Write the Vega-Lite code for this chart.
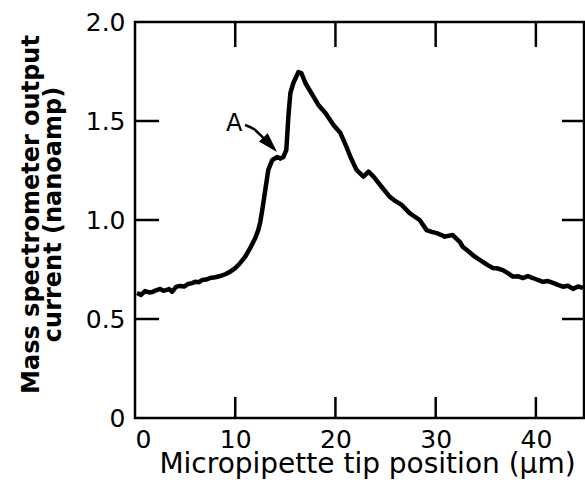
{
  "$schema": "https://vega.github.io/schema/vega-lite/v6.json",
  "width": 449,
  "height": 396,
  "autosize": {"type": "none"},
  "padding": {"left": 135, "top": 22, "right": 1, "bottom": 78},
  "background": "white",
  "config": {
    "view": {"stroke": "black", "strokeWidth": 2.5},
    "axis": {
      "grid": false,
      "domain": false,
      "ticks": false,
      "labelColor": "black",
      "labelFont": "DejaVu Sans",
      "labelFontSize": 25,
      "titleColor": "black",
      "titleFont": "DejaVu Sans"
    }
  },
  "datasets": {
    "curve": [
      {"x": 0.2, "y": 0.631}, {"x": 0.6, "y": 0.622}, {"x": 1.0, "y": 0.641}, {"x": 1.4, "y": 0.634},
      {"x": 1.7, "y": 0.636}, {"x": 2.1, "y": 0.645}, {"x": 2.5, "y": 0.652}, {"x": 2.8, "y": 0.643},
      {"x": 3.1, "y": 0.646}, {"x": 3.4, "y": 0.651}, {"x": 3.7, "y": 0.638}, {"x": 4.1, "y": 0.662},
      {"x": 4.5, "y": 0.667}, {"x": 4.9, "y": 0.664}, {"x": 5.3, "y": 0.677}, {"x": 5.7, "y": 0.681},
      {"x": 6.0, "y": 0.688}, {"x": 6.4, "y": 0.686}, {"x": 6.7, "y": 0.697}, {"x": 7.1, "y": 0.699},
      {"x": 7.5, "y": 0.707}, {"x": 8.0, "y": 0.711}, {"x": 8.5, "y": 0.717}, {"x": 9.0, "y": 0.726},
      {"x": 9.5, "y": 0.739}, {"x": 10.0, "y": 0.757}, {"x": 10.5, "y": 0.783}, {"x": 11.0, "y": 0.815},
      {"x": 11.5, "y": 0.859}, {"x": 12.0, "y": 0.909}, {"x": 12.3, "y": 0.949}, {"x": 12.5, "y": 0.99},
      {"x": 12.7, "y": 1.051}, {"x": 13.0, "y": 1.152}, {"x": 13.3, "y": 1.253}, {"x": 13.7, "y": 1.303},
      {"x": 14.2, "y": 1.318}, {"x": 14.5, "y": 1.31}, {"x": 14.8, "y": 1.318}, {"x": 15.1, "y": 1.354},
      {"x": 15.3, "y": 1.52}, {"x": 15.5, "y": 1.641}, {"x": 15.8, "y": 1.692}, {"x": 16.3, "y": 1.747},
      {"x": 16.6, "y": 1.742}, {"x": 17.0, "y": 1.692}, {"x": 17.6, "y": 1.641}, {"x": 18.3, "y": 1.581},
      {"x": 19.0, "y": 1.54}, {"x": 19.8, "y": 1.48}, {"x": 20.5, "y": 1.439}, {"x": 21.1, "y": 1.369},
      {"x": 21.5, "y": 1.318}, {"x": 22.1, "y": 1.253}, {"x": 22.8, "y": 1.219}, {"x": 23.3, "y": 1.244},
      {"x": 23.8, "y": 1.219}, {"x": 24.6, "y": 1.168}, {"x": 25.4, "y": 1.118}, {"x": 26.0, "y": 1.095},
      {"x": 26.6, "y": 1.076}, {"x": 27.4, "y": 1.035}, {"x": 28.4, "y": 1.0}, {"x": 29.1, "y": 0.949},
      {"x": 29.6, "y": 0.94}, {"x": 30.1, "y": 0.934}, {"x": 30.9, "y": 0.916}, {"x": 31.7, "y": 0.924},
      {"x": 32.4, "y": 0.89}, {"x": 32.7, "y": 0.865}, {"x": 33.2, "y": 0.845}, {"x": 33.7, "y": 0.823},
      {"x": 34.2, "y": 0.805}, {"x": 34.7, "y": 0.789}, {"x": 35.2, "y": 0.772}, {"x": 35.7, "y": 0.758},
      {"x": 36.2, "y": 0.755}, {"x": 36.7, "y": 0.747}, {"x": 37.2, "y": 0.732}, {"x": 37.7, "y": 0.714},
      {"x": 38.2, "y": 0.716}, {"x": 38.7, "y": 0.707}, {"x": 39.2, "y": 0.716}, {"x": 39.7, "y": 0.707},
      {"x": 40.2, "y": 0.697}, {"x": 40.7, "y": 0.688}, {"x": 41.2, "y": 0.692}, {"x": 41.7, "y": 0.682},
      {"x": 42.2, "y": 0.672}, {"x": 42.7, "y": 0.663}, {"x": 43.2, "y": 0.668}, {"x": 43.7, "y": 0.652},
      {"x": 44.2, "y": 0.664}, {"x": 44.7, "y": 0.657}
    ],
    "arrow": [
      {"x": 10.98, "y": 1.48}, {"x": 11.9, "y": 1.458}, {"x": 12.7, "y": 1.42}, {"x": 13.3, "y": 1.39}
    ],
    "head": [{"x": 13.49, "y": 1.38}],
    "label": [{"x": 9.9, "y": 1.485, "t": "A"}],
    "b10": [{"x": 10, "y": 0}, {"x": 10.001, "y": 0.106}],
    "b20": [{"x": 20, "y": 0}, {"x": 20.001, "y": 0.106}],
    "b30": [{"x": 30, "y": 0}, {"x": 30.001, "y": 0.106}],
    "b40": [{"x": 40, "y": 0}, {"x": 40.001, "y": 0.106}],
    "t10": [{"x": 10, "y": 2}, {"x": 10.001, "y": 1.874}],
    "t20": [{"x": 20, "y": 2}, {"x": 20.001, "y": 1.874}],
    "t30": [{"x": 30, "y": 2}, {"x": 30.001, "y": 1.874}],
    "t40": [{"x": 40, "y": 2}, {"x": 40.001, "y": 1.874}],
    "l05": [{"x": 0, "y": 0.5}, {"x": 2.4, "y": 0.5001}],
    "l10": [{"x": 0, "y": 1.0}, {"x": 2.4, "y": 1.0001}],
    "l15": [{"x": 0, "y": 1.5}, {"x": 2.4, "y": 1.5001}],
    "r05": [{"x": 42.6, "y": 0.5}, {"x": 44.8, "y": 0.5001}],
    "r10": [{"x": 42.6, "y": 1.0}, {"x": 44.8, "y": 1.0001}],
    "r15": [{"x": 42.6, "y": 1.5}, {"x": 44.8, "y": 1.5001}]
  },
  "layer": [
    {
      "data": {"name": "curve"},
      "mark": {"type": "line", "color": "black", "strokeWidth": 4.5, "strokeJoin": "round"},
      "encoding": {
        "x": {
          "field": "x", "type": "quantitative",
          "scale": {"domain": [0, 44.8], "nice": false, "zero": false},
          "axis": {
            "orient": "bottom", "values": [0, 10, 20, 30, 40],
            "labelPadding": 9,
            "title": "Micropipette tip position (μm)",
            "titleFontSize": 28, "titleFontWeight": "normal", "titlePadding": -2,
            "titleX": 232, "titleAlign": "center"
          }
        },
        "y": {
          "field": "y", "type": "quantitative",
          "scale": {"domain": [0, 2], "nice": false, "zero": false},
          "axis": {
            "orient": "left", "values": [0, 0.5, 1, 1.5, 2],
            "labelExpr": "datum.value == 0 ? '0' : format(datum.value, '.1f')",
            "labelPadding": 10,
            "title": ["Mass spectrometer output", "current (nanoamp)"],
            "titleFontSize": 24, "titleFontWeight": "bold", "titleLineHeight": 22,
            "titlePadding": 20, "titleY": 192, "titleAlign": "center"
          }
        }
      }
    },
    {
      "data": {"name": "label"},
      "mark": {"type": "text", "font": "DejaVu Sans", "fontSize": 24, "color": "black", "align": "center", "baseline": "middle"},
      "encoding": {
        "x": {"field": "x", "type": "quantitative", "axis": null},
        "y": {"field": "y", "type": "quantitative", "axis": null},
        "text": {"field": "t"}
      }
    },
    {
      "data": {"name": "arrow"},
      "mark": {"type": "line", "color": "black", "strokeWidth": 2.5, "interpolate": "monotone"},
      "encoding": {
        "x": {"field": "x", "type": "quantitative", "axis": null},
        "y": {"field": "y", "type": "quantitative", "axis": null}
      }
    },
    {
      "data": {"name": "head"},
      "mark": {"type": "point", "shape": "M0,-1L0.6,1L-0.6,1Z", "filled": true, "color": "black", "opacity": 1, "size": 400, "angle": 137},
      "encoding": {
        "x": {"field": "x", "type": "quantitative", "axis": null},
        "y": {"field": "y", "type": "quantitative", "axis": null}
      }
    },
    {"data": {"name": "b10"}, "mark": {"type": "line", "color": "black", "strokeWidth": 2.5}, "encoding": {"x": {"field": "x", "type": "quantitative", "axis": null}, "y": {"field": "y", "type": "quantitative", "axis": null}}},
    {"data": {"name": "b20"}, "mark": {"type": "line", "color": "black", "strokeWidth": 2.5}, "encoding": {"x": {"field": "x", "type": "quantitative", "axis": null}, "y": {"field": "y", "type": "quantitative", "axis": null}}},
    {"data": {"name": "b30"}, "mark": {"type": "line", "color": "black", "strokeWidth": 2.5}, "encoding": {"x": {"field": "x", "type": "quantitative", "axis": null}, "y": {"field": "y", "type": "quantitative", "axis": null}}},
    {"data": {"name": "b40"}, "mark": {"type": "line", "color": "black", "strokeWidth": 2.5}, "encoding": {"x": {"field": "x", "type": "quantitative", "axis": null}, "y": {"field": "y", "type": "quantitative", "axis": null}}},
    {"data": {"name": "t10"}, "mark": {"type": "line", "color": "black", "strokeWidth": 2.5}, "encoding": {"x": {"field": "x", "type": "quantitative", "axis": null}, "y": {"field": "y", "type": "quantitative", "axis": null}}},
    {"data": {"name": "t20"}, "mark": {"type": "line", "color": "black", "strokeWidth": 2.5}, "encoding": {"x": {"field": "x", "type": "quantitative", "axis": null}, "y": {"field": "y", "type": "quantitative", "axis": null}}},
    {"data": {"name": "t30"}, "mark": {"type": "line", "color": "black", "strokeWidth": 2.5}, "encoding": {"x": {"field": "x", "type": "quantitative", "axis": null}, "y": {"field": "y", "type": "quantitative", "axis": null}}},
    {"data": {"name": "t40"}, "mark": {"type": "line", "color": "black", "strokeWidth": 2.5}, "encoding": {"x": {"field": "x", "type": "quantitative", "axis": null}, "y": {"field": "y", "type": "quantitative", "axis": null}}},
    {"data": {"name": "l05"}, "mark": {"type": "line", "color": "black", "strokeWidth": 2.5}, "encoding": {"x": {"field": "x", "type": "quantitative", "axis": null}, "y": {"field": "y", "type": "quantitative", "axis": null}}},
    {"data": {"name": "l10"}, "mark": {"type": "line", "color": "black", "strokeWidth": 2.5}, "encoding": {"x": {"field": "x", "type": "quantitative", "axis": null}, "y": {"field": "y", "type": "quantitative", "axis": null}}},
    {"data": {"name": "l15"}, "mark": {"type": "line", "color": "black", "strokeWidth": 2.5}, "encoding": {"x": {"field": "x", "type": "quantitative", "axis": null}, "y": {"field": "y", "type": "quantitative", "axis": null}}},
    {"data": {"name": "r05"}, "mark": {"type": "line", "color": "black", "strokeWidth": 2.5}, "encoding": {"x": {"field": "x", "type": "quantitative", "axis": null}, "y": {"field": "y", "type": "quantitative", "axis": null}}},
    {"data": {"name": "r10"}, "mark": {"type": "line", "color": "black", "strokeWidth": 2.5}, "encoding": {"x": {"field": "x", "type": "quantitative", "axis": null}, "y": {"field": "y", "type": "quantitative", "axis": null}}},
    {"data": {"name": "r15"}, "mark": {"type": "line", "color": "black", "strokeWidth": 2.5}, "encoding": {"x": {"field": "x", "type": "quantitative", "axis": null}, "y": {"field": "y", "type": "quantitative", "axis": null}}}
  ],
  "resolve": {"axis": {"x": "independent", "y": "independent"}}
}
